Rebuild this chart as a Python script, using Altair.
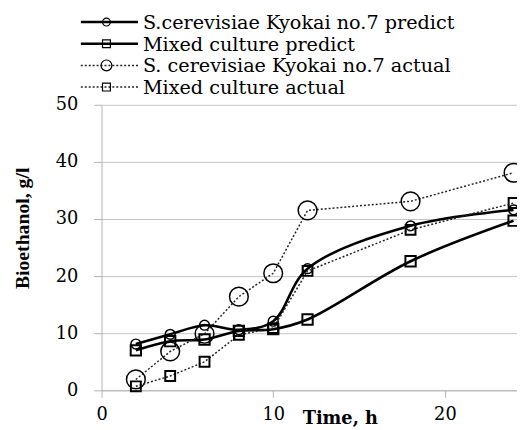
import altair as alt
import pandas as pd

# ---- data ----
time_h = [2, 4, 6, 8, 10, 12, 18, 24]
sc_predict = [8.1, 9.8, 11.4, 10.6, 12.1, 21.3, 28.8, 31.6]
mix_predict = [7.0, 8.6, 8.9, 10.4, 10.7, 12.4, 22.6, 29.7]
sc_actual = [1.9, 6.8, 9.9, 16.4, 20.5, 31.5, 33.1, 38.1]
mix_actual = [0.7, 2.5, 5.0, 9.7, 10.9, 20.9, 28.1, 32.8]

series_names = [
    "S.cerevisiae Kyokai no.7 predict",
    "Mixed culture predict",
    "S. cerevisiae Kyokai no.7 actual",
    "Mixed culture actual",
]
series_values = [sc_predict, mix_predict, sc_actual, mix_actual]

rows = []
for name, vals in zip(series_names, series_values):
    for t, v in zip(time_h, vals):
        rows.append({"series": name, "t": t, "v": v})
df = pd.DataFrame(rows)

FONT = "DejaVu Serif"
TFONT = "Liberation Serif"
GRAY = "#b3b3b3"

x_scale = alt.Scale(domain=[0, 24.2], nice=False, zero=False)
y_scale = alt.Scale(domain=[0, 50], nice=False)

x_axis = alt.Axis(
    values=[0, 10, 20], grid=False, domainColor=GRAY, tickColor=GRAY, tickSize=7,
    labelFont=FONT, labelFontSize=18, labelColor="black", labelPadding=9, labelFlush=False,
    title="Time, h", titleFont=FONT, titleFontSize=18, titleFontWeight="bold",
    titleColor="black", titleX=242, titleY=20, titleBaseline="top", titleAlign="center",
)
y_axis = alt.Axis(
    values=[0, 10, 20, 30, 40, 50], grid=True, gridColor="#c4c4c4", gridWidth=1,
    domainColor=GRAY, tickColor=GRAY, tickSize=8,
    labelFont=FONT, labelFontSize=18, labelColor="black", labelPadding=16,
    title="Bioethanol, g/l", titleFont=TFONT, titleFontSize=20, titleFontWeight="bold",
    titleColor="black", titleAngle=270, titleX=-80, titleY=125,
    titleAlign="center", titleBaseline="middle",
)

# style per series: (dashed, shape, size, marker stroke width, legend marker size)
styles = [
    (False, "circle", 100, 1.5, 64),
    (False, "square", 110, 2.0, 64),
    (True, "circle", 361, 1.5, 121),
    (True, "square", 100, 2.0, 64),
]

layers = []
first = True
for name, (dashed, shape, size, sw, _) in zip(series_names, styles):
    base = alt.Chart(df).transform_filter(alt.datum.series == name)
    line_kw = dict(color="black", strokeWidth=1.5 if dashed else 2.6,
                   interpolate="linear" if dashed else "catmull-rom")
    if dashed:
        line_kw["strokeDash"] = [2, 2]
        line_kw["color"] = "#222222"
    if first:
        xenc = alt.X("t:Q", scale=x_scale, axis=x_axis)
        yenc = alt.Y("v:Q", scale=y_scale, axis=y_axis)
        first = False
    else:
        xenc = alt.X("t:Q", scale=x_scale)
        yenc = alt.Y("v:Q", scale=y_scale)
    layers.append(base.mark_line(**line_kw).encode(x=xenc, y=yenc))
    layers.append(
        base.mark_point(shape=shape, filled=False, color="black", size=size,
                        strokeWidth=sw, opacity=1).encode(x="t:Q", y="v:Q")
    )

# ---- manual legend (above the plot area) ----
one = pd.DataFrame({"k": [0]})
leg_y = [-84, -62, -40, -18]
for name, (dashed, shape, size, sw, lsize), yy in zip(series_names, styles, leg_y):
    rule_kw = dict(color="black", strokeWidth=1.5 if dashed else 2.6)
    if dashed:
        rule_kw["strokeDash"] = [2, 2]
        rule_kw["color"] = "#222222"
    layers.append(alt.Chart(one).mark_rule(**rule_kw).encode(
        x=alt.value(-21), x2=alt.value(37), y=alt.value(yy)))
    layers.append(alt.Chart(one).mark_point(
        shape=shape, filled=False, color="black", size=lsize, strokeWidth=1.2, opacity=1
    ).encode(x=alt.value(5), y=alt.value(yy)))
    layers.append(alt.Chart(one).mark_text(
        align="left", baseline="middle", font=FONT, fontSize=19.5, color="black"
    ).encode(x=alt.value(42), y=alt.value(yy + 1), text=alt.value(name)))

chart = alt.layer(*layers).properties(
    width=422, height=290,
    autosize=alt.AutoSizeParams(type="none"),
    padding={"left": 95, "top": 95, "right": 0, "bottom": 37},
    background="white",
).configure_view(stroke=None)

chart.save("out.html", embed_options={"renderer": "svg", "actions": False})
